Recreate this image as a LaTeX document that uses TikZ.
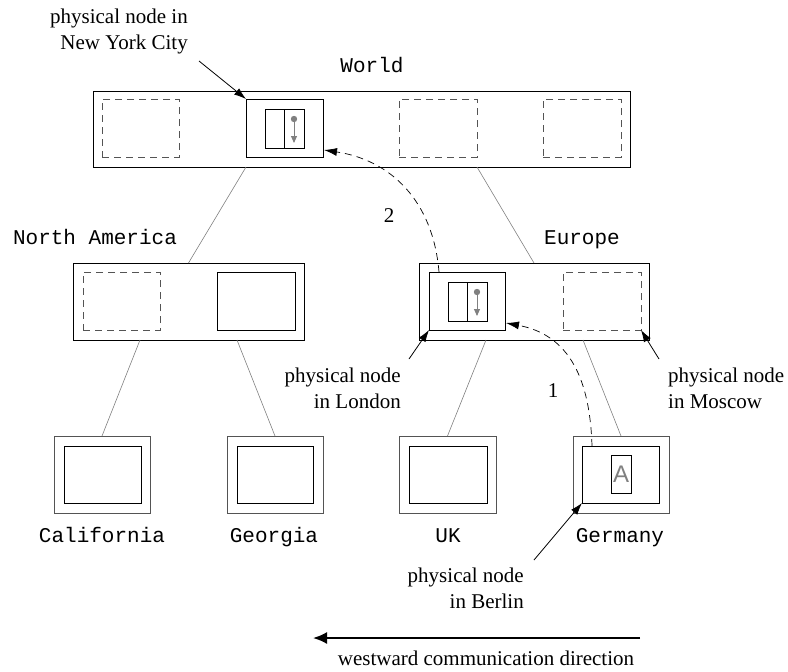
\documentclass[tikz,border=0pt]{standalone}
\usepackage{fontspec}
\setmainfont{Liberation Serif}
\setmonofont{Liberation Mono}
\newfontfamily\sansA{Liberation Sans}
\usetikzlibrary{arrows.meta}
\definecolor{dgray}{gray}{0.33}
\definecolor{lgray}{gray}{0.5}
\begin{document}
\begin{tikzpicture}[x=1pt,y=-1pt,
  bx/.style={draw, rectangle, inner sep=0pt, outer sep=0pt, anchor=north west, line width=0.9pt},
  dbx/.style={bx, draw=dgray, dash pattern=on 7pt off 5pt},
  gbx/.style={bx, draw=dgray},
  tree/.style={draw=lgray, line width=0.6pt},
  mono/.style={font=\ttfamily\fontsize{21}{26}\selectfont, inner sep=0pt, anchor=base},
  ann/.style={font=\fontsize{21}{26}\selectfont, inner sep=0pt},
  pointer/.style={-{Latex[length=12pt,width=8pt]}, line width=0.8pt},
  msg/.style={-{Latex[length=13pt,width=8pt]}, line width=0.7pt, dash pattern=on 7pt off 5pt},
  gtip/.style={draw=lgray, line width=0.9pt, -{Triangle[length=7pt,width=6pt]}, lgray}
]
\useasboundingbox (0,0) rectangle (788,672);

% World level
\node[bx, minimum width=537pt, minimum height=76pt] (world) at (93,91) {};
\node[dbx, minimum width=77pt, minimum height=58pt] (w1) at (102,99) {};
\node[bx, minimum width=77pt, minimum height=58pt] (nyc) at (246,99) {};
\node[bx, minimum width=19pt, minimum height=39pt] (nycl) at (265,109) {};
\node[bx, minimum width=20pt, minimum height=39pt] (nycr) at (284,109) {};
\node[dbx, minimum width=78pt, minimum height=58pt] (w3) at (399,99) {};
\node[dbx, minimum width=78pt, minimum height=58pt] (w4) at (543,99) {};
\node[mono] (worldlbl) at (372,72) {World};
\fill[lgray] (294,119) circle (3.2pt);
\coordinate (nycdot) at (294,119);
\coordinate (nycend) at (294,143);
\draw[gtip] (nycdot) -- (nycend);

% North America
\node[bx, minimum width=231pt, minimum height=77pt] (na) at (73,263) {};
\node[dbx, minimum width=77pt, minimum height=58pt] (na1) at (83,272) {};
\node[bx, minimum width=78pt, minimum height=58pt] (na2) at (217,272) {};
\node[mono] (nalbl) at (95,244) {North America};

% Europe
\node[bx, minimum width=230pt, minimum height=77pt] (eu) at (419,263) {};
\node[bx, minimum width=76pt, minimum height=58pt] (lon) at (429,272) {};
\node[bx, minimum width=19pt, minimum height=39pt] (lonl) at (448,282) {};
\node[bx, minimum width=20pt, minimum height=39pt] (lonr) at (467,282) {};
\node[dbx, minimum width=78pt, minimum height=58pt] (mos) at (563,272) {};
\node[mono] (eulbl) at (582,244) {Europe};
\fill[lgray] (477,292) circle (3.2pt);
\coordinate (londot) at (477,292);
\coordinate (lonend) at (477,316);
\draw[gtip] (londot) -- (lonend);

% Leaves
\node[gbx, minimum width=96pt, minimum height=77pt] (cal) at (54,436) {};
\node[bx, minimum width=77pt, minimum height=57pt] (calin) at (64,446) {};
\node[gbx, minimum width=96pt, minimum height=77pt] (geo) at (227,436) {};
\node[bx, minimum width=76pt, minimum height=57pt] (geoin) at (237,446) {};
\node[gbx, minimum width=97pt, minimum height=77pt] (uk) at (399,436) {};
\node[bx, minimum width=78pt, minimum height=57pt] (ukin) at (409,446) {};
\node[gbx, minimum width=96pt, minimum height=77pt] (ger) at (573,436) {};
\node[bx, minimum width=77pt, minimum height=57pt] (gerin) at (582,446) {};
\node[bx, minimum width=20pt, minimum height=38pt] (abox) at (611,455) {};
\node[text=lgray, font=\sansA\fontsize{24}{24}\selectfont, inner sep=0pt] (alabel) at (621,474) {A};

\node[mono] (callbl) at (102,542) {California};
\node[mono] (geolbl) at (274,542) {Georgia};
\node[mono] (uklbl) at (448,542) {UK};
\node[mono] (gerlbl) at (620,542) {Germany};

% Tree edges
\draw[tree] (world.south -| nyc.south west) -- (na.north);
\draw[tree] (world.south -| w3.south east) -- (eu.north);
\draw[tree] ([xshift=67pt]na.south west) -- (cal.north);
\draw[tree] ([xshift=164pt]na.south west) -- (geo.north);
\draw[tree] ([xshift=67pt]eu.south west) -- (uk.north);
\draw[tree] ([xshift=164pt]eu.south west) -- (ger.north);

% Message arrows
\coordinate (m1s) at (592,446);
\coordinate (m1e) at (506,323);
\draw[msg] (m1s) .. controls (590,380) and (570,335) .. (m1e);
\node[ann] (one) at (553,391) {1};
\coordinate (m2s) at (439,272);
\coordinate (m2e) at (324,150);
\draw[msg] (m2s) .. controls (433,200) and (390,160) .. (m2e);
\node[ann] (two) at (389,216) {2};

% Annotations
\node[ann, align=right, anchor=north east] (nyctxt) at (188,8.5) {physical node in\\New York City};
\coordinate (nycp) at (199,61);
\draw[pointer] (nycp) -- (nyc.north west);

\node[ann, align=right, anchor=north east] (lontxt) at (401,367.5) {physical node\\in London};
\coordinate (lonp) at (409,359);
\draw[pointer] (lonp) -- (lon.south west);

\node[ann, align=left, anchor=north west] (mostxt) at (668,367.5) {physical node\\in Moscow};
\coordinate (mosp) at (659,359);
\draw[pointer] (mosp) -- (mos.south east);

\node[ann, align=right, anchor=north east] (bertxt) at (524,567.5) {physical node\\in Berlin};
\coordinate (berp) at (534,560);
\draw[pointer] (berp) -- (gerin.south west);

% Westward arrow
\coordinate (wes) at (640,638);
\coordinate (wee) at (313,638);
\draw[line width=2pt, -{Latex[length=14pt,width=12pt]}] (wes) -- (wee);
\node[ann, anchor=base] (westtxt) at (486,665) {westward communication direction};
\end{tikzpicture}
\end{document}
